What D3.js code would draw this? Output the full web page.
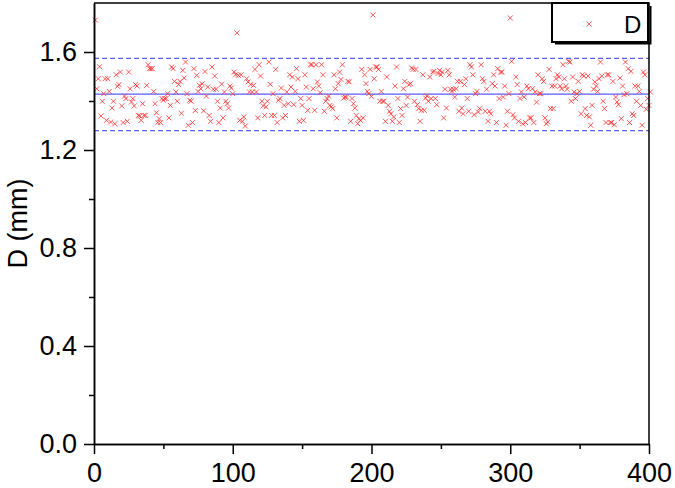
<!DOCTYPE html>
<meta charset="utf-8">
<script src="https://cdn.jsdelivr.net/npm/d3@7"></script>
<style>
    body { margin: 0; background: #fff; }
    text { font-family: Arial, "Liberation Sans", sans-serif; }
</style>
<svg width="675" height="488" class="plot"></svg>
<script>

// sample diameters, sample number = position + 1
var diam1 = [1.73,
    1.450, 1.491, 1.540, 1.339, 1.399, 1.430, 1.491, 1.321, 1.491, 1.439,
    1.314, 1.371, 1.399, 1.307, 1.507, 1.460, 1.467, 1.518, 1.380, 1.312,
    1.420, 1.410, 1.317, 1.518, 1.450, 1.396, 1.410, 1.380, 1.467, 1.461,
    1.341, 1.339, 1.321, 1.389, 1.341, 1.341, 1.464, 1.548, 1.532, 1.532,
    1.532, 1.439, 1.389, 1.352, 1.312, 1.328, 1.312, 1.410, 1.403, 1.410,
    1.410, 1.430, 1.331, 1.382, 1.539, 1.532, 1.480, 1.437, 1.399, 1.467,
    1.480, 1.350, 1.525, 1.494, 1.559, 1.430, 1.301, 1.403, 1.399, 1.312,
    1.532, 1.361, 1.505, 1.439, 1.464, 1.450, 1.47, 1.36, 1.52, 1.42];
var diam2 = [1.457, 1.341, 1.317, 1.539, 1.448, 1.502, 1.448, 1.399, 1.312, 1.371,
    1.469, 1.331, 1.437, 1.399, 1.389, 1.371, 1.461, 1.453, 1.430, 1.518,
    1.507, 1.678, 1.505, 1.321, 1.507, 1.317, 1.335, 1.298, 1.491, 1.478,
    1.437, 1.467, 1.437, 1.464, 1.529, 1.437, 1.331, 1.548, 1.502, 1.399,
    1.380, 1.341, 1.376, 1.399, 1.559, 1.468, 1.341, 1.430, 1.341, 1.529,
    1.312, 1.403, 1.410, 1.453, 1.331, 1.382, 1.341, 1.437, 1.389, 1.507,
    1.457, 1.498, 1.385, 1.439, 1.532, 1.491, 1.317, 1.410, 1.382, 1.321,
    1.507, 1.457, 1.362, 1.410, 1.548, 1.548, 1.450, 1.362];
var diam3 = [1.548, 1.478, 1.461, 1.434, 1.548, 1.507, 1.358, 1.399, 1.410, 1.420,
    1.382, 1.376, 1.369, 1.507, 1.450, 1.331, 1.471, 1.518, 1.488, 1.548,
    1.412, 1.416, 1.416, 1.480, 1.478, 1.317, 1.410, 1.389, 1.371, 1.341,
    1.307, 1.328, 1.321, 1.529, 1.331, 1.507, 1.471, 1.439, 1.430, 1.529,
    1.419, 1.751, 1.491, 1.539, 1.539, 1.529, 1.399, 1.439, 1.399, 1.399,
    1.317, 1.498, 1.382, 1.358, 1.348, 1.317, 1.335, 1.461, 1.539, 1.410,
    1.312, 1.369, 1.341, 1.450, 1.480, 1.382, 1.416, 1.467, 1.471, 1.535,
    1.529, 1.399, 1.529, 1.385, 1.369, 1.317, 1.362, 1.507, 1.362, 1.412];
var diam4 = [1.420, 1.399, 1.498, 1.410, 1.518, 1.521, 1.410, 1.385, 1.512, 1.525,
    1.507, 1.518, 1.331, 1.448, 1.371, 1.525, 1.507, 1.448, 1.439, 1.448,
    1.416, 1.450, 1.480, 1.358, 1.480, 1.371, 1.348, 1.467, 1.491, 1.410,
    1.358, 1.548, 1.539, 1.507, 1.344, 1.430, 1.439, 1.355, 1.369, 1.548,
    1.491, 1.480, 1.358, 1.448, 1.317, 1.358, 1.348, 1.471, 1.507, 1.461,
    1.312, 1.532, 1.410, 1.518, 1.518, 1.416, 1.461, 1.301, 1.358, 1.430,
    1.739, 1.562, 1.344, 1.331, 1.498, 1.467, 1.317, 1.410, 1.437, 1.307,
    1.416, 1.312, 1.461, 1.450, 1.331, 1.331, 1.450, 1.312, 1.437, 1.395];
var diam5 = [1.507, 1.430, 1.430, 1.491, 1.480, 1.331, 1.307, 1.314, 1.529, 1.369,
    1.461, 1.369, 1.461, 1.491, 1.507, 1.498, 1.461, 1.450, 1.548, 1.491,
    1.461, 1.448, 1.562, 1.559, 1.399, 1.498, 1.437, 1.410, 1.430, 1.480,
    1.439, 1.348, 1.507, 1.502, 1.369, 1.341, 1.502, 1.335, 1.301, 1.382,
    1.448, 1.478, 1.461, 1.439, 1.491, 1.559, 1.502, 1.399, 1.369, 1.312,
    1.507, 1.507, 1.312, 1.312, 1.480, 1.303, 1.416, 1.396, 1.385, 1.494,
    1.328, 1.461, 1.426, 1.559, 1.430, 1.532, 1.312, 1.521, 1.348, 1.341,
    1.461, 1.399, 1.461, 1.439, 1.382, 1.301, 1.518, 1.507, 1.366, 1.410,
    1.382, 1.437];

var meanD = 1.428;
var upperD = 1.574;
var lowerD = 1.279;

var xTicks = [0, 100, 200, 300, 400];
var xMinor = [50, 150, 250, 350];
var yTicks = [0, 0.4, 0.8, 1.2, 1.6];
var yMinor = [0.2, 0.6, 1.0, 1.4];

var diam = diam1.concat(diam2, diam3, diam4, diam5);
var points = diam.map(function(d, i){ return { n: i + 1, d: d } });

var svg = d3.select("svg.plot"),
    margin = {top: 3, right: 26, bottom: 44, left: 94},
    width = +svg.attr("width") - margin.left - margin.right,
    height = +svg.attr("height") - margin.top - margin.bottom;

var x = d3.scaleLinear().domain([0, 400]).range([0, width]);
var y = d3.scaleLinear().domain([0, 1.8]).range([height, 0]);

var focus = svg.append("g")
    .attr("transform", "translate(" + margin.left + "," + margin.top + ")");

// mean and limits
function hline(v, dash){
    focus.append("line")
        .attr("x1", 0).attr("x2", width)
        .attr("y1", y(v)).attr("y2", y(v))
        .attr("stroke", "#5a5aff")
        .attr("stroke-width", 1.4)
        .attr("stroke-dasharray", dash);
}
hline(meanD, null);
hline(upperD, "5,3");
hline(lowerD, "5,3");

function cross(sel){
    sel.append("path")
        .attr("d", "M-2.5,-2.5L2.5,2.5M-2.5,2.5L2.5,-2.5")
        .attr("stroke", "#ff3030")
        .attr("stroke-opacity", 0.8)
        .attr("stroke-width", 1)
        .attr("fill", "none");
}

focus.selectAll("g.pt")
    .data(points)
    .enter()
    .append("g")
    .classed("pt", true)
    .attr("transform", function(d){ return "translate(" + x(d.n) + "," + y(d.d) + ")" })
    .call(cross);

// frame
focus.append("path")
    .attr("d", "M0,0H" + width + "V" + height)
    .attr("fill", "none")
    .attr("stroke", "#000")
    .attr("stroke-width", 1.5);

// axes
var xAxis = focus.append("g")
    .attr("transform", "translate(0," + height + ")")
    .call(d3.axisBottom(x).tickValues(xTicks).tickSize(10).tickPadding(9).tickSizeOuter(0));
var xAxisMinor = focus.append("g")
    .attr("transform", "translate(0," + height + ")")
    .call(d3.axisBottom(x).tickValues(xMinor).tickSize(5).tickFormat("").tickSizeOuter(0));
var yAxis = focus.append("g")
    .call(d3.axisLeft(y).tickValues(yTicks).tickSize(10).tickPadding(7).tickSizeOuter(0).tickFormat(d3.format(".1f")));
var yAxisMinor = focus.append("g")
    .call(d3.axisLeft(y).tickValues(yMinor).tickSize(5).tickFormat("").tickSizeOuter(0));

[xAxis, xAxisMinor, yAxis, yAxisMinor].forEach(function(a){
    a.select(".domain").attr("stroke-width", 1.5);
    a.selectAll(".tick line").attr("stroke-width", 1.5);
    a.selectAll(".tick text")
        .attr("fill", "#000")
        .style("font-size", "27px")
        .style("font-family", "Arial, 'Liberation Sans', sans-serif");
});

svg.append("text")
    .attr("transform", "translate(27," + (margin.top + height / 2) + ") rotate(-90)")
    .attr("text-anchor", "middle")
    .style("font-size", "27px")
    .text("D (mm)");

// legend, with the small drop shadow on right and bottom
var legend = focus.append("g")
    .attr("transform", "translate(" + (width - 97) + ",0)");
legend.append("path")
    .attr("d", "M3,40.5H98.5V3")
    .attr("fill", "none")
    .attr("stroke", "#000")
    .attr("stroke-width", 2);
legend.append("rect")
    .attr("width", 96).attr("height", 39)
    .attr("fill", "#fff")
    .attr("stroke", "#000")
    .attr("stroke-width", 2);
legend.append("g")
    .attr("transform", "translate(37,21)")
    .call(cross);
legend.append("text")
    .attr("x", 72).attr("y", 30)
    .style("font-size", "24px")
    .text("D");

</script>
